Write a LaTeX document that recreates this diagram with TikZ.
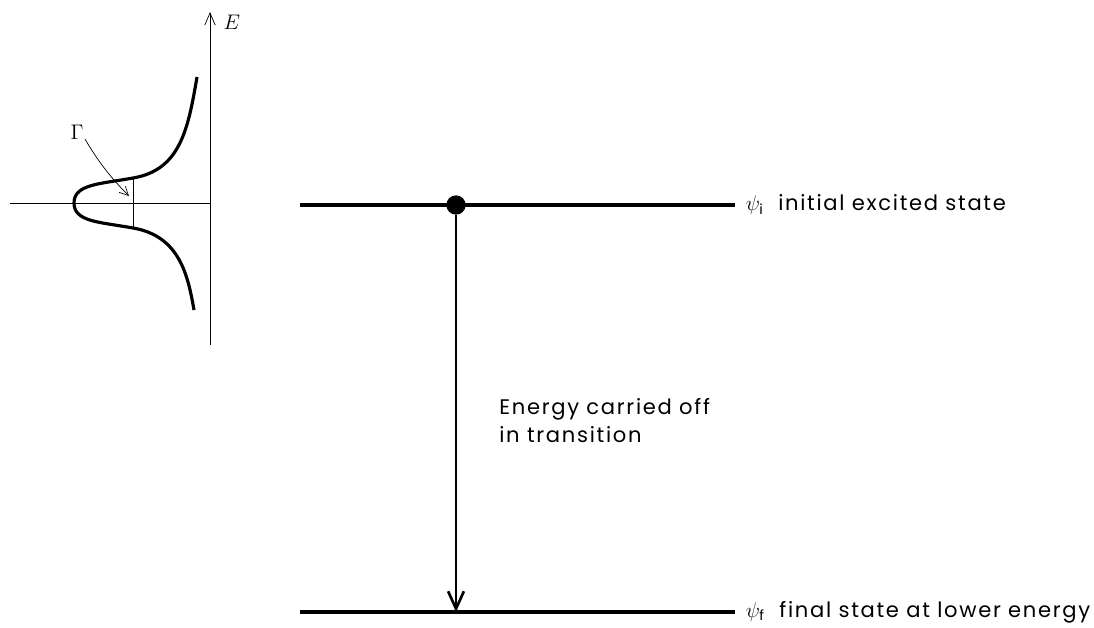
\documentclass[tikz,border=0pt]{standalone}
\usepackage{fontspec}
\setmainfont{Poppins}[LetterSpace=8]
\usepackage{tikz}
\usetikzlibrary{positioning,arrows.meta}

\begin{document}
\begin{tikzpicture}[x=0.02cm, y=-0.02cm, font=\fontsize{12}{16}\selectfont,
    level/.style={line width=2pt},
    curve/.style={line width=1.8pt},
    tip/.style={-{Straight Barb[length=7pt,width=6pt]}}]
      \useasboundingbox (0,0) rectangle (1094,627);
      % line shape
      \draw (10,203) -- (210,203);
      \draw[tip] (210,345) -- (210,12);
      \node[right=2pt] at (214,22) {$E$};
      \draw[curve] (197,77) .. controls (188,130) and (180,170) .. (133,178)
        .. controls (100,184) and (74,184) .. (74,203)
        .. controls (74,222) and (100,222) .. (133,228)
        .. controls (180,236) and (188,276) .. (194,310);
      \draw (133,178) -- (133,228);
      \node (gam) at (77,132) {$\Gamma$};
      \coordinate (gamend) at (129,196);
      \draw[-{Straight Barb[length=5pt,width=5pt]}] (85,139) .. controls (100,165) and (115,182) .. (gamend);
      % levels
      \coordinate (i0) at (300,205);
      \coordinate (i1) at (735,205);
      \coordinate (f0) at (300,612);
      \coordinate (f1) at (735,612);
      \draw[level] (i0) -- (i1);
      \draw[level] (f0) -- (f1);
      \node[right=6pt, inner sep=0pt] (psii) at (i1) {$\psi_{\mathrm{i}}$\ \ initial excited state};
      \node[right=6pt, inner sep=0pt] (psif) at (f1) {$\psi_{\mathrm{f}}$\ \ final state at lower energy};
      \node[circle, fill, inner sep=0pt, minimum size=11pt] (dot) at (456,205) {};
      \draw[line width=1.5pt, -{Straight Barb[length=10pt,width=9pt]}] (dot) -- (456,612);
      \node[align=left, anchor=north west, inner sep=0pt] (txt) at (499,398) {Energy carried off\\in transition};
    \end{tikzpicture}
\end{document}
